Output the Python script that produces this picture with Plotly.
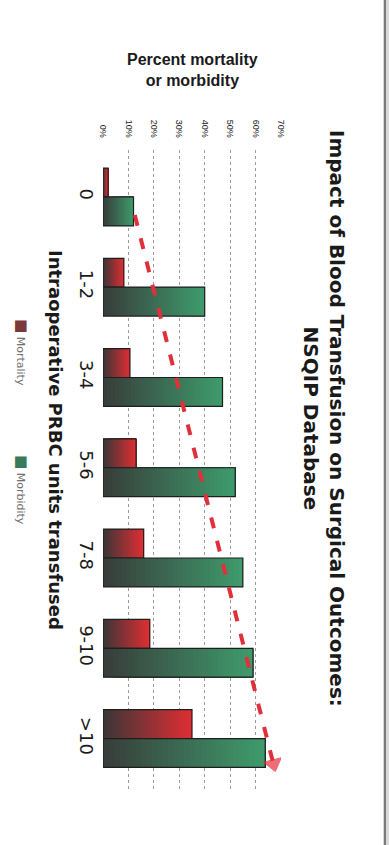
import plotly.graph_objects as go

categories = ["0", "1-2", "3-4", "5-6", "7-8", "9-10", ">10"]
mortality = [2.0, 8.2, 10.6, 13.0, 16.0, 18.4, 35.0]
morbidity = [12.0, 40.0, 47.0, 52.0, 55.0, 59.0, 63.8]
tick_values = [0, 10, 20, 30, 40, 50, 60, 70]
tick_labels = ["0%", "10%", "20%", "30%", "40%", "50%", "60%", "70%"]
trend_values = [12.5, 67.0]
trend_positions = [0.2, 6.28]

idx = list(range(len(categories)))
N = 30

PX0, PXW = 103, 178   # plot-area left and width in px
PY0, PYH = 150, 640   # plot-area top and height in px


def px(x):
    return (x - PX0) / PXW


def py(y):
    return (PY0 + PYH - y) / PYH


def lerp(c1, c2, t):
    return "rgb(%d,%d,%d)" % tuple(round(a + (b - a) * t) for a, b in zip(c1, c2))


fig = go.Figure()
series = [
    ("Mortality", mortality, (58, 54, 54), (224, 46, 52)),
    ("Morbidity", morbidity, (56, 60, 58), (62, 156, 108)),
]
for name, vals, c0, c1 in series:
    for k in range(N):
        fig.add_trace(go.Bar(
            y=idx, x=[v * (N - k) / N for v in vals], base=[v * k / N for v in vals],
            orientation="h", offsetgroup=name, showlegend=False,
            marker=dict(color=lerp(c0, c1, (k + 0.5) / N), line=dict(width=0)),
            hoverinfo="skip",
        ))
    fig.add_trace(go.Bar(
        y=idx, x=vals, orientation="h", offsetgroup=name, name=name,
        showlegend=False,
        marker=dict(color="rgba(0,0,0,0)", line=dict(color="#1e1e1e", width=1.2)),
    ))

fig.add_trace(go.Scatter(
    x=trend_values, y=trend_positions, mode="lines+markers", showlegend=False,
    line=dict(color="#e0303c", width=4, dash="11px,13px"),
    marker=dict(symbol=["circle", "triangle-up"], size=[0, 16], angleref="previous",
                color="#e8303c"),
    hoverinfo="skip",
))

fig.update_layout(
    width=389, height=845,
    margin=dict(l=PX0, r=389 - PX0 - PXW, t=PY0, b=845 - PY0 - PYH),
    paper_bgcolor="white", plot_bgcolor="white",
    barmode="group", bargap=0.36, bargroupgap=0,
    xaxis=dict(
        range=[0, 70], side="top", tickvals=tick_values, ticktext=tick_labels,
        tickangle=90, showgrid=True, gridcolor="#9a9a9a", griddash="dot", gridwidth=1,
        zeroline=False, showline=False, ticks="",
        tickfont=dict(family="Liberation Sans Narrow, Liberation Sans", size=9, color="#222"),
        ticklabelstandoff=10,
    ),
    yaxis=dict(
        range=[6.57, -0.52], tickvals=idx, ticktext=categories, tickangle=90,
        showgrid=False, zeroline=False, showline=False, ticks="",
        tickfont=dict(family="DejaVu Sans", size=18, color="#1a1a1a"),
        ticklabelstandoff=4,
    ),
    font=dict(family="DejaVu Sans"),
    shapes=[
        dict(type="rect", xref="paper", yref="paper", x0=px(383), x1=px(392),
             y0=-0.2, y1=1.3, fillcolor="#d8d8d8", line=dict(width=0), layer="below"),
        dict(type="line", xref="paper", yref="paper", x0=px(385), x1=px(385),
             y0=-0.2, y1=1.3, line=dict(color="#7a7a7a", width=2)),
    ],
)

common = dict(xref="paper", yref="paper", showarrow=False, xanchor="center", yanchor="middle")

fig.add_annotation(
    x=px(324), y=py(418),
    text="<b>Impact of Blood Transfusion on Surgical Outcomes:<br>NSQIP Database</b>",
    textangle=90, font=dict(size=20, color="#1a1a1a", family="DejaVu Sans"),
    align="center", **common,
)
fig.add_annotation(
    x=px(56), y=py(440),
    text="<b>Intraoperative PRBC units transfused</b>",
    textangle=90, font=dict(size=18, color="#1a1a1a", family="DejaVu Sans"),
    **common,
)
fig.add_annotation(
    x=px(192), y=py(70),
    text="<b>Percent mortality<br>or morbidity</b>",
    font=dict(size=16, color="#1a1a1a", family="Liberation Sans Narrow, Liberation Sans"),
    align="center", **common,
)
fig.add_annotation(
    x=px(22), y=py(352),
    text="<span style='color:#7a3a3c;font-size:15px'>■</span> Mortality",
    textangle=90, font=dict(size=11, color="#707070", family="DejaVu Sans"),
    **common,
)
fig.add_annotation(
    x=px(22), y=py(490),
    text="<span style='color:#3a7a58;font-size:15px'>■</span> Morbidity",
    textangle=90, font=dict(size=11, color="#707070", family="DejaVu Sans"),
    **common,
)

fig.write_html("out.html")
